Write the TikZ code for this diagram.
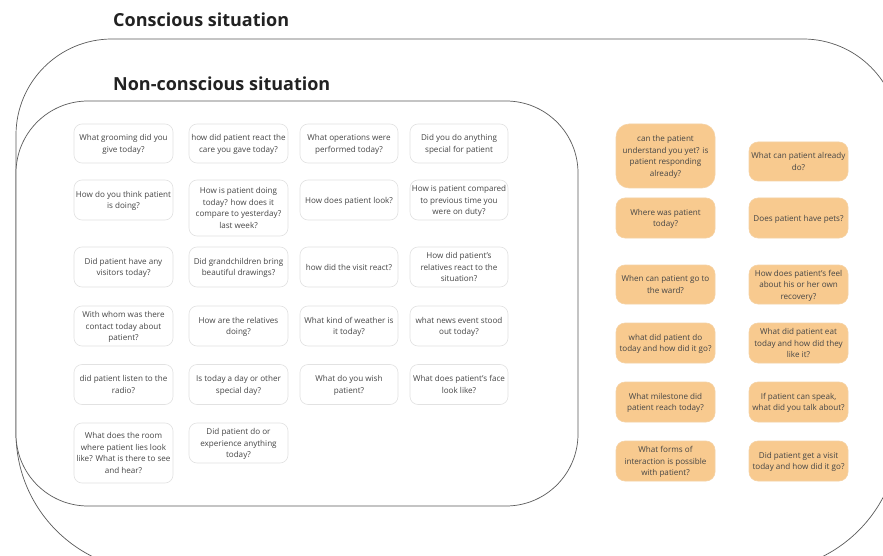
\documentclass[tikz,border=0pt]{standalone}
\usepackage{fontspec}
\setmainfont{Open Sans}
\definecolor{frame}{HTML}{5A5A5A}
\definecolor{wborder}{HTML}{E2E2E2}
\definecolor{txt}{HTML}{454545}
\definecolor{ttl}{HTML}{222222}
\definecolor{ofill}{HTML}{F8CA8F}
\definecolor{oborder}{HTML}{F5D2A5}
\tikzset{
  frameline/.style={draw=frame, line width=0.7pt},
  boxtext/.style={inner sep=0pt, align=center, text=txt, font=\fontsize{8.1}{11.6}\selectfont,
    text depth=-3.5pt},
  wbox/.style={boxtext, draw=wborder, fill=white, line width=0.6pt, rounded corners=8pt},
  obox/.style={boxtext, draw=oborder, fill=ofill, line width=0.6pt, rounded corners=9pt,
    minimum width=99pt},
  title/.style={anchor=west, inner sep=0pt, text=ttl, font=\fontsize{18}{22}\selectfont\bfseries}
}
\begin{document}
\begin{tikzpicture}[x=1pt,y=-1pt]
\useasboundingbox (0,0) rectangle (883,556);
\fill[white] (0,0) rectangle (883,556);
% outer frame (conscious)
\draw[frameline] (16,135) arc[start angle=180,end angle=90,radius=96pt] -- (803,39)
  arc[start angle=90,end angle=0,radius=96pt] -- (899,433)
  arc[start angle=0,end angle=-90,radius=138pt] -- (154,571)
  arc[start angle=270,end angle=180,radius=138pt] -- cycle;
% inner frame (non-conscious)
\draw[frameline, fill=white] (16,173) arc[start angle=180,end angle=90,radius=72pt] -- (506,101)
  arc[start angle=90,end angle=0,radius=72pt] -- (578,434)
  arc[start angle=0,end angle=-90,radius=72pt] -- (88,506)
  arc[start angle=270,end angle=180,radius=72pt] -- cycle;
\node[title] (t1) at (113,20) {Conscious situation};
\node[title] (t2) at (113,84) {Non-conscious situation};
% white boxes
\node[wbox, minimum width=99pt, minimum height=39pt] (w11) at (123.5,143.5) {What grooming did you\\give today?};
\node[wbox, minimum width=99pt, minimum height=39pt] (w12) at (238.5,143.5) {how did patient react the\\care you gave today?};
\node[wbox, minimum width=98pt, minimum height=39pt] (w13) at (349,143.5) {What operations were\\performed today?};
\node[wbox, minimum width=98pt, minimum height=39pt] (w14) at (459,143.5) {Did you do anything\\special for patient};
\node[wbox, minimum width=99pt, minimum height=40pt] (w21) at (123.5,200) {How do you think patient\\is doing?};
\node[wbox, minimum width=99pt, minimum height=56pt] (w22) at (238.5,208) {How is patient doing\\today? how does it\\compare to yesterday?\\last week?};
\node[wbox, minimum width=98pt, minimum height=40pt] (w23) at (349,200) {How does patient look?};
\node[wbox, minimum width=98pt, minimum height=40pt] (w24) at (459,200) {How is patient compared\\to previous time you\\were on duty?};
\node[wbox, minimum width=99pt, minimum height=40pt] (w31) at (123.5,267) {Did patient have any\\visitors today?};
\node[wbox, minimum width=99pt, minimum height=40pt] (w32) at (238.5,267) {Did grandchildren bring\\beautiful drawings?};
\node[wbox, minimum width=98pt, minimum height=40pt] (w33) at (349,267) {how did the visit react?};
\node[wbox, minimum width=98pt, minimum height=40pt] (w34) at (459,267) {How did patient's\\relatives react to the\\situation?};
\node[wbox, minimum width=99pt, minimum height=40pt] (w41) at (123.5,326) {With whom was there\\contact today about\\patient?};
\node[wbox, minimum width=99pt, minimum height=40pt] (w42) at (238.5,326) {How are the relatives\\doing?};
\node[wbox, minimum width=98pt, minimum height=40pt] (w43) at (349,326) {What kind of weather is\\it today?};
\node[wbox, minimum width=98pt, minimum height=40pt] (w44) at (459,326) {what news event stood\\out today?};
\node[wbox, minimum width=99pt, minimum height=40pt] (w51) at (123.5,384.5) {did patient listen to the\\radio?};
\node[wbox, minimum width=99pt, minimum height=40pt] (w52) at (238.5,384.5) {Is today a day or other\\special day?};
\node[wbox, minimum width=98pt, minimum height=40pt] (w53) at (349,384.5) {What do you wish\\patient?};
\node[wbox, minimum width=98pt, minimum height=40pt] (w54) at (459,384.5) {What does patient's face\\look like?};
\node[wbox, minimum width=99pt, minimum height=60pt] (w61) at (123.5,453) {What does the room\\where patient lies look\\like? What is there to see\\and hear?};
\node[wbox, minimum width=99pt, minimum height=40pt] (w62) at (238.5,443) {Did patient do or\\experience anything\\today?};
% orange boxes
\node[obox, minimum height=64pt, rounded corners=13pt] (oA) at (665.5,156) {can the patient\\understand you yet? is\\patient responding\\already?};
\node[obox, minimum height=39pt] (oB) at (798.5,161.5) {What can patient already\\do?};
\node[obox, minimum height=40pt] (oC) at (665.5,218) {Where was patient\\today?};
\node[obox, minimum height=40pt] (oD) at (798.5,218) {Does patient have pets?};
\node[obox, minimum height=39pt] (oE) at (665.5,284.5) {When can patient go to\\the ward?};
\node[obox, minimum height=39pt] (oF) at (798.5,284.5) {How does patient's feel\\about his or her own\\recovery?};
\node[obox, minimum height=40pt] (oG) at (665.5,343) {what did patient do\\today and how did it go?};
\node[obox, minimum height=40pt] (oH) at (798.5,343) {What did patient eat\\today and how did they\\like it?};
\node[obox, minimum height=40pt] (oI) at (665.5,402) {What milestone did\\patient reach today?};
\node[obox, minimum height=40pt] (oJ) at (798.5,402) {If patient can speak,\\what did you talk about?};
\node[obox, minimum height=40pt] (oK) at (665.5,461) {What forms of\\interaction is possible\\with patient?};
\node[obox, minimum height=40pt] (oL) at (798.5,461) {Did patient get a visit\\today and how did it go?};
\end{tikzpicture}
\end{document}
